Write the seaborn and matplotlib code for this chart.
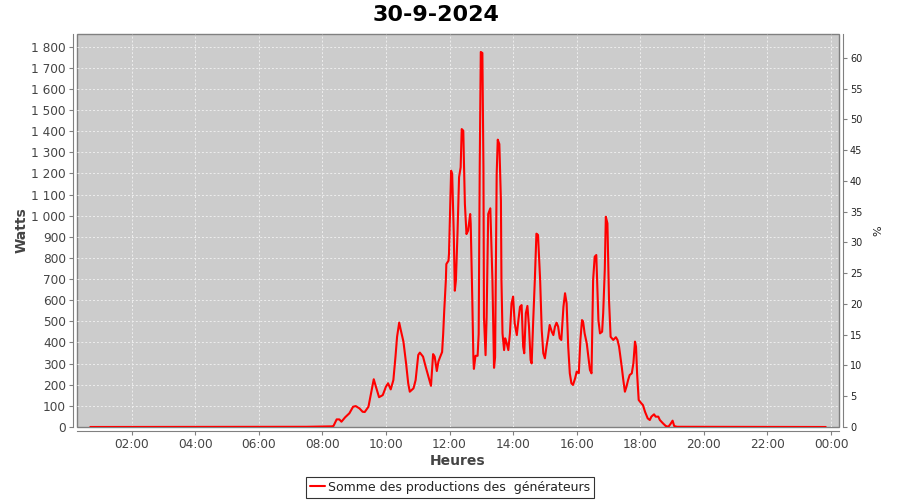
import pandas as pd
import seaborn as sns
import matplotlib.pyplot as plt
import matplotlib.dates as mdates
from matplotlib.ticker import FuncFormatter, MultipleLocator

# Données (production en W)
jour = "2024-09-30"
heures = ["00:42", "07:30", "08:00", "08:18", "08:21", "08:27", "08:32", "08:36", "08:43", "08:51",
          "08:58", "09:03", "09:10", "09:16", "09:20", "09:27", "09:33", "09:37", "09:41", "09:47",
          "09:54", "10:00", "10:04", "10:09", "10:14", "10:18", "10:21", "10:25", "10:28", "10:33",
          "10:38", "10:42", "10:45", "10:52", "10:56", "11:01", "11:04", "11:10", "11:15", "11:22",
          "11:25", "11:29", "11:32", "11:36", "11:39", "11:42", "11:46", "11:48", "11:50", "11:53",
          "11:54", "11:58", "11:59", "12:03", "12:05", "12:08", "12:10", "12:12", "12:15", "12:18",
          "12:21", "12:23", "12:26", "12:27", "12:29", "12:32", "12:35", "12:39", "12:40", "12:43",
          "12:45", "12:46", "12:49", "12:53", "12:55", "12:57", "12:59", "13:02", "13:04", "13:05",
          "13:08", "13:10", "13:13", "13:17", "13:21", "13:24", "13:26", "13:29", "13:31", "13:34",
          "13:37", "13:38", "13:40", "13:43", "13:45", "13:48", "13:51", "13:54", "13:57", "14:00",
          "14:03", "14:07", "14:10", "14:13", "14:16", "14:19", "14:21", "14:24", "14:27", "14:30",
          "14:33", "14:35", "14:38", "14:41", "14:44", "14:47", "14:51", "14:54", "14:57", "15:00",
          "15:03", "15:06", "15:09", "15:13", "15:16", "15:19", "15:22", "15:25", "15:28", "15:31",
          "15:35", "15:38", "15:41", "15:44", "15:47", "15:50", "15:53", "15:57", "16:00", "16:04",
          "16:07", "16:10", "16:12", "16:15", "16:19", "16:22", "16:25", "16:28", "16:31", "16:34",
          "16:37", "16:41", "16:44", "16:48", "16:50", "16:53", "16:55", "16:58", "17:01", "17:04",
          "17:09", "17:14", "17:17", "17:20", "17:25", "17:28", "17:31", "17:34", "17:37", "17:40",
          "17:44", "17:47", "17:50", "17:52", "17:54", "17:57", "18:02", "18:05", "18:09", "18:14",
          "18:18", "18:21", "18:26", "18:29", "18:34", "18:37", "18:43", "18:48", "18:53", "18:57",
          "19:01", "19:04", "19:09", "23:50"]
watts = [0, 1, 2, 3, 5, 36, 36, 25, 46, 65,
         96, 99, 88, 72, 71, 96, 175, 226, 191, 141,
         151, 191, 207, 178, 222, 333, 427, 494, 459, 404,
         301, 207, 167, 183, 222, 341, 352, 333, 285, 222,
         195, 345, 333, 265, 310, 330, 355, 440, 550, 692,
         771, 787, 819, 1213, 1197, 913, 645, 692, 913, 1182,
         1229, 1410, 1402, 1276, 1055, 913, 929, 1008, 961, 598,
         330, 275, 337, 337, 440, 1229, 1775, 1770, 1229, 519,
         340, 519, 1008, 1035, 692, 280, 330, 1197, 1360, 1339,
         1071, 695, 443, 364, 420, 396, 364, 443, 585, 617,
         491, 435, 506, 569, 577, 380, 349, 538, 573, 475,
         317, 301, 506, 696, 915, 909, 696, 459, 349, 325,
         380, 427, 483, 451, 435, 475, 494, 475, 420, 412,
         569, 633, 585, 380, 254, 207, 199, 230, 262, 255,
         412, 506, 500, 443, 396, 333, 270, 254, 696, 806,
         814, 506, 443, 451, 538, 743, 995, 964, 601, 427,
         412, 425, 412, 380, 285, 222, 167, 191, 222, 246,
         254, 301, 404, 380, 254, 128, 112, 104, 72, 41,
         33, 49, 60, 49, 49, 33, 17, 5, 1, 14,
         30, 5, 1, 0]
serie = "Somme des productions des  générateurs"

df = pd.DataFrame({"temps": pd.to_datetime([jour + " " + h for h in heures]), "W": watts})

sns.set_style("whitegrid")
plt.rcParams["font.family"] = ["DejaVu Sans"]

fig = plt.figure(figsize=(9, 5), dpi=100)
ax = fig.add_axes([0.0856, 0.146, 0.8464, 0.786])
ax.set_facecolor("#cccccc")
ax.patch.set_edgecolor("#808080")
ax.patch.set_linewidth(1)

sns.lineplot(data=df, x="temps", y="W", color="red", linewidth=1.5, ax=ax, label=serie, legend=False)

debut = pd.Timestamp(jour)
ax.set_xlim(debut + pd.Timedelta(hours=0.283), debut + pd.Timedelta(hours=24.245))
ax.set_ylim(0, 1860)
ax.yaxis.set_major_locator(MultipleLocator(100))
ax.yaxis.set_major_formatter(FuncFormatter(lambda v, p: f"{int(v):,}".replace(",", " ")))
ax.xaxis.set_major_locator(mdates.HourLocator(interval=2))
ax.xaxis.set_major_formatter(mdates.DateFormatter("%H:%M"))

ax.grid(True, color="#eeeeee", linestyle=(0, (2, 2)), linewidth=0.7)
for s in ["top", "right"]:
    ax.spines[s].set_visible(False)
for s in ["left", "bottom"]:
    ax.spines[s].set_position(("outward", 3))
    ax.spines[s].set_color("#808080")
ax.tick_params(axis="both", colors="#808080", labelcolor="#444444", labelsize=8.7,
               length=3, width=0.8, left=True, bottom=True, pad=2)
ax.set_xlabel("Heures", fontsize=10, fontweight="bold", color="#444444", labelpad=2)
ax.set_ylabel("Watts", fontsize=10, fontweight="bold", color="#444444", labelpad=2)

# Axe de droite en %
ax2 = ax.twinx()
ax2.set_ylim(0, 63.9)
ax2.yaxis.set_major_locator(MultipleLocator(5))
ax2.grid(False)
for s in ["top", "left", "bottom"]:
    ax2.spines[s].set_visible(False)
ax2.spines["right"].set_position(("outward", 3))
ax2.spines["right"].set_color("#808080")
ax2.tick_params(axis="y", colors="#808080", labelcolor="#222222", labelsize=7,
                length=3, width=0.8, right=True, pad=2)
ax2.set_ylabel("%", fontsize=8, color="#222222", labelpad=8)

fig.suptitle("30-9-2024", x=0.485, y=0.99, fontsize=16, fontweight="bold", color="black")

handles, labels = ax.get_legend_handles_labels()
leg = fig.legend(handles, labels, loc="lower center", bbox_to_anchor=(0.5, 0.0), ncol=1,
                 fontsize=9, frameon=True, fancybox=False, handlelength=1.2,
                 handletextpad=0.3, borderpad=0.3, borderaxespad=0.2)
leg.get_frame().set_edgecolor("black")
leg.get_frame().set_linewidth(0.8)
for t in leg.get_texts():
    t.set_color("#222222")

plt.savefig("out.png", dpi=100)
